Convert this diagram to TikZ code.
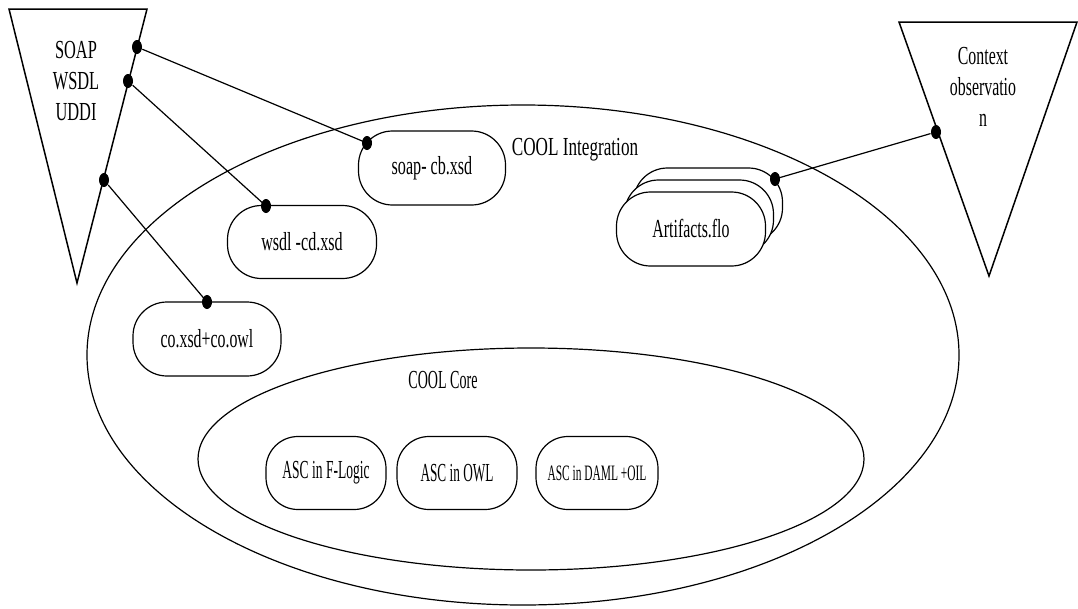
\documentclass[tikz,border=0pt]{standalone}
\usepackage{fontspec}
\setmainfont{Liberation Serif}
\usetikzlibrary{shapes.geometric}
% narrow the lettering horizontally
\newcommand\hsq[2]{\scalebox{#1}[1]{#2}}

\tikzset{
  pill/.style={draw, fill=white, rounded corners=34pt, minimum width=148pt,
               minimum height=74pt, inner sep=0pt,
               font=\fontsize{26}{30}\selectfont},
  ascbox/.style={pill, rounded corners=32pt, minimum width=120pt, minimum height=73pt},
  dot/.style={ellipse, fill=black, inner sep=0pt, minimum width=10pt, minimum height=14pt},
  lbl/.style={font=\fontsize{26}{31}\selectfont, align=center, inner sep=0pt},
  region/.style={draw, ellipse, inner sep=0pt},
  funnel/.style={line width=1.5pt, line join=miter},
  link/.style={line width=1.2pt},
}

\begin{document}
\begin{tikzpicture}[x=1pt, y=-1pt, line width=1.2pt]
\useasboundingbox (0,0) rectangle (1078,608);

% nested regions
\node[region, minimum width=872pt, minimum height=500pt] (integ) at (523,355) {};
\node[region, minimum width=666pt, minimum height=222pt] (core) at (531,459) {};
\node[lbl, anchor=base] (integlbl) at (575,155) {\hsq{0.66}{COOL Integration}};
\node[lbl, anchor=base] (corelbl) at (443,388) {\hsq{0.54}{COOL Core}};

% protocol funnel (left)
\draw[funnel] (9,9) -- (147,9) -- (77,283) -- cycle;
\node[lbl] (proto) at (76,81) {\hsq{0.63}{SOAP}\\\hsq{0.63}{WSDL}\\\hsq{0.63}{UDDI}};

% context funnel (right)
\draw[funnel] (899,22) -- (1077,22) -- (989,276) -- cycle;
\node[lbl] (ctx) at (983,87) {\hsq{0.61}{Context}\\\hsq{0.61}{observatio}\\\hsq{0.61}{n}};

% attachment points
\node[dot] (p1) at (137,47) {};
\node[dot] (p2) at (128,81) {};
\node[dot] (p3) at (104,180) {};
\node[dot] (c1) at (936,132) {};
\coordinate (q1) at (367,143);
\coordinate (q2) at (266,206);
\coordinate (q3) at (207,302);
\coordinate (q4) at (775,179);

% connectors
\draw[link] (p1) -- (q1);
\draw[link] (p2) -- (q2);
\draw[link] (p3) -- (q3);
\draw[link] (c1) -- (q4);

% integration artefacts
\node[pill, minimum width=147pt] (soap) at (432,168) {\hsq{0.62}{soap- cb.xsd}};
\node[pill, minimum width=149pt, minimum height=73pt] (wsdl) at (302,242) {\hsq{0.62}{wsdl -cd.xsd}};
\node[pill] (co) at (207,339) {\hsq{0.61}{co.xsd+co.owl}};

% stacked artifact files
\node[pill, minimum width=149pt] (art3) at (708,205) {};
\node[pill, minimum width=149pt] (art2) at (699,217) {};
\node[pill, minimum width=149pt] (art1) at (691,229) {\hsq{0.61}{Artifacts.flo}};

% core ontologies
\node[ascbox] (fl) at (326,473) {\hsq{0.52}{ASC in F-Logic}};
\node[ascbox] (owl) at (457,473) {\hsq{0.51}{ASC in OWL}};
\node[ascbox, minimum width=122pt, font=\fontsize{22}{26}\selectfont] (daml) at (597,473) {\hsq{0.52}{ASC in DAML +OIL}};

% dots at the box ends
\node[dot] (d1) at (q1) {};
\node[dot] (d2) at (q2) {};
\node[dot] (d3) at (q3) {};
\node[dot] (d4) at (q4) {};
\end{tikzpicture}
\end{document}
